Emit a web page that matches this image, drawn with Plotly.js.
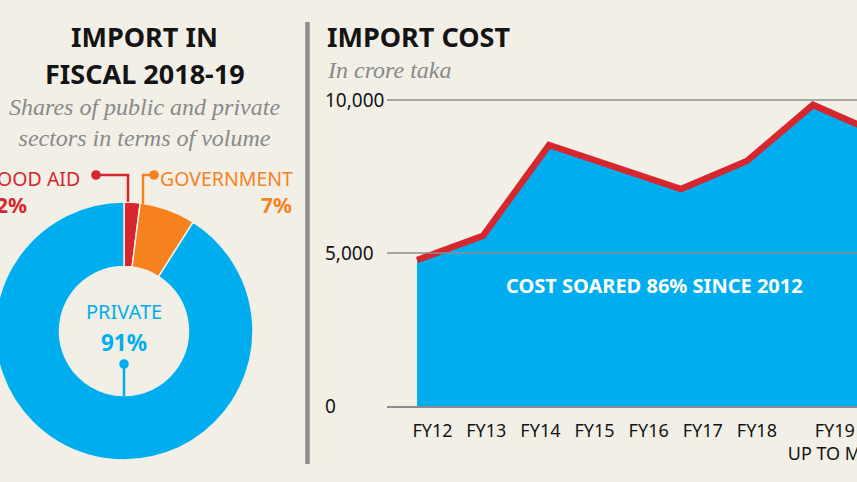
<!DOCTYPE html>
<html>
<head>
<meta charset="utf-8">
<script src="https://cdn.plot.ly/plotly-3.0.1.min.js"></script>
<style>
  html, body { margin: 0; padding: 0; width: 857px; height: 482px; overflow: hidden; background: #f2efe7; }
  #chart { position: absolute; left: -20px; top: 0; width: 920px; height: 482px; }
  #chart text { font-stretch: 62.5%; }
</style>
</head>
<body>
<div id="chart"></div>
<script>
// ---------- data ----------
const categories = ['FY12', 'FY13', 'FY14', 'FY15', 'FY16', 'FY17', 'FY18', 'FY19'];
const importCost = [4770, 5560, 8530, 7810, 7090, 8010, 9840, 8900];   // crore taka
const tickLabels = ['FY12', 'FY13', 'FY14', 'FY15', 'FY16', 'FY17', 'FY18', 'FY19<br>UP TO MAY'];
const yTickValues = [0, 5000, 10000];
const yTickLabels = ['0', '5,000', '10,000'];
const shareLabels = ['FOOD AID', 'GOVERNMENT', 'PRIVATE'];
const shareValues = [2, 7, 91];   // percent of volume

// ---------- style / layout helpers ----------
const W = 920, H = 482, OFF = 20;              // div is wider than window, shifted left
const px = p => (p + OFF) / W;                 // page x -> paper x
const py = p => 1 - p / H;                     // page y -> paper y
const NARROW = '"Noto Sans", "DejaVu Sans Condensed", sans-serif';
const SERIF = '"Liberation Serif", "DejaVu Serif", serif';
const BG = '#f2efe7', BLUE = '#00aeef', RED = '#d6262e', ORANGE = '#f5821f', GRAY = '#8c8c8c', INK = '#141414';
const SUB = '#898989';
const shareColors = [RED, ORANGE, BLUE];

// x positions: index axis, first point at page 417, 66 px per step
const x0Page = 417, step = 66, plotLeft = 387, plotRight = W - OFF;
const xIdx = categories.map((_, i) => i);
const labelPos = [0.235, 1.05, 1.87, 2.69, 3.51, 4.33, 5.15, 6.33];

// y: 0 at page 406, 10000 at page 100
const yTop = 10500, pxPerUnit = (406 - 100) / 10000;

const traces = [
  {
    type: 'pie',
    values: shareValues,
    labels: shareLabels,
    marker: { colors: shareColors, line: { color: BG, width: 1.5 } },
    hole: 0.5,
    sort: false,
    direction: 'clockwise',
    rotation: 0,
    textinfo: 'none',
    hoverinfo: 'none',
    showlegend: false,
    domain: { x: [px(124 - 129), px(124 + 129)], y: [py(460), py(202)] }
  },
  {
    type: 'scatter',
    mode: 'lines',
    x: xIdx,
    y: importCost,
    fill: 'tozeroy',
    fillcolor: BLUE,
    line: { color: RED, width: 6.5, shape: 'linear' },
    hoverinfo: 'none',
    showlegend: false,
    xaxis: 'x',
    yaxis: 'y'
  }
];

const shapes = [];
// gridlines above the area
yTickValues.filter(v => v > 0).forEach(v => {
  shapes.push({ type: 'line', xref: 'paper', yref: 'y', x0: px(plotLeft), x1: 1, y0: v, y1: v,
    line: { color: GRAY, width: 1.6 }, layer: 'above' });
});
// vertical separator
shapes.push({ type: 'line', xref: 'paper', yref: 'paper', x0: px(307.5), x1: px(307.5), y0: py(22), y1: py(464),
  line: { color: GRAY, width: 4.5 } });
// leader lines
function path(points) {
  return points.map((p, i) => (i ? 'L' : 'M') + px(p[0]) + ',' + py(p[1])).join(' ');
}
function dot(x, y, r, color) {
  return { type: 'circle', xref: 'paper', yref: 'paper', x0: px(x - r), x1: px(x + r), y0: py(y + r), y1: py(y - r),
    fillcolor: color, line: { width: 0 }, layer: 'above' };
}
shapes.push({ type: 'path', xref: 'paper', yref: 'paper', path: path([[96, 175], [128, 175], [128, 202]]),
  line: { color: RED, width: 2.5 }, layer: 'above' });
shapes.push(dot(96, 175, 4.8, RED));
shapes.push({ type: 'path', xref: 'paper', yref: 'paper', path: path([[154, 175], [143, 175], [143, 204]]),
  line: { color: ORANGE, width: 2.5 }, layer: 'above' });
shapes.push(dot(154, 175, 4.8, ORANGE));
shapes.push({ type: 'path', xref: 'paper', yref: 'paper', path: path([[124, 364], [124, 396]]),
  line: { color: BLUE, width: 2.5 }, layer: 'above' });
shapes.push(dot(124, 364, 4.8, BLUE));

function ann(text, xPage, yPage, xanchor, font) {
  return { text, x: px(xPage), y: py(yPage), xref: 'paper', yref: 'paper', xanchor, yanchor: 'middle',
    showarrow: false, font, borderpad: 0, align: xanchor === 'center' ? 'center' : xanchor };
}
const TITLE = { family: NARROW, size: 27, weight: 700, color: INK };
const annotations = [
  ann('IMPORT IN', 144.5, 36.5, 'center', TITLE),
  ann('FISCAL 2018-19', 144.5, 73.5, 'center', TITLE),
  ann('Shares of public and private<br>sectors in terms of volume', 144, 123, 'center',
    { family: SERIF, size: 24, style: 'italic', color: SUB }),
  ann(shareLabels[0], 81, 178, 'right', { family: NARROW, size: 19.5, color: RED }),
  ann(shareValues[0] + '%', 28, 205, 'right', { family: NARROW, size: 21, weight: 700, color: RED }),
  ann(shareLabels[1], 294, 178, 'right', { family: NARROW, size: 19.5, color: ORANGE }),
  ann(shareValues[1] + '%', 293, 205, 'right', { family: NARROW, size: 21, weight: 700, color: ORANGE }),
  ann(shareLabels[2], 124, 311.5, 'center', { family: NARROW, size: 20, color: BLUE }),
  ann(shareValues[2] + '%', 124, 342, 'center', { family: NARROW, size: 22.5, weight: 700, color: BLUE }),
  ann('IMPORT COST', 326, 37, 'left', TITLE),
  ann('In crore taka', 326, 70, 'left', { family: SERIF, size: 24, style: 'italic', color: SUB }),
  ann('COST SOARED 86% SINCE 2012', 654.5, 285, 'center', { family: NARROW, size: 20, weight: 700, color: '#ffffff' })
];

const layout = {
  width: W, height: H,
  margin: { l: 0, r: 0, t: 0, b: 0, pad: 0 },
  paper_bgcolor: BG, plot_bgcolor: 'rgba(0,0,0,0)',
  showlegend: false,
  xaxis: {
    domain: [px(plotLeft), 1],
    range: [(plotLeft - x0Page) / step, (plotRight - x0Page) / step],
    showgrid: false, zeroline: false,
    showline: true, linecolor: GRAY, linewidth: 2,
    ticks: '', tickmode: 'array', tickvals: labelPos, ticktext: tickLabels,
    tickfont: { family: NARROW, size: 18, color: INK },
    ticklabelstandoff: 7,
    fixedrange: true
  },
  yaxis: {
    domain: [py(406), py(406 - yTop * pxPerUnit)],
    range: [0, yTop],
    anchor: 'free', side: 'right', position: px(324),
    tickmode: 'array', tickvals: yTickValues, ticktext: yTickLabels,
    showgrid: false, zeroline: false, showline: false, ticks: '',
    tickfont: { family: NARROW, size: 19, color: INK },
    fixedrange: true
  },
  shapes, annotations
};

Plotly.newPlot('chart', traces, layout, { staticPlot: true, displayModeBar: false });
</script>
</body>
</html>
